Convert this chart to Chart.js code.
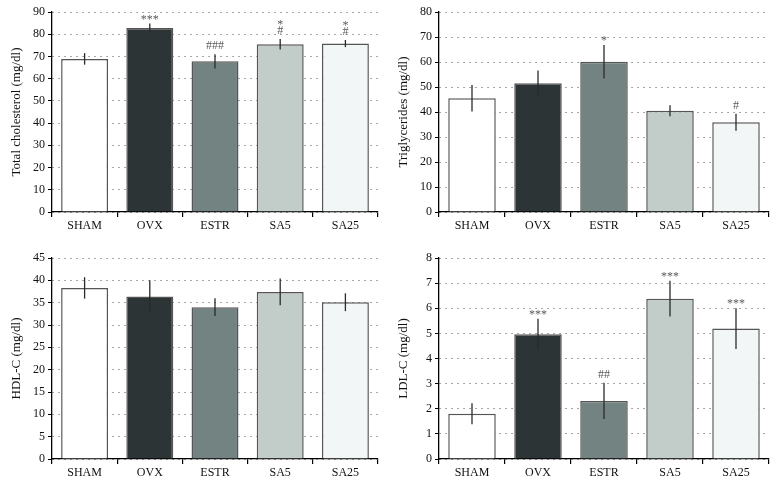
<!DOCTYPE html>
<html>
<head>
<meta charset="utf-8">
<script src="https://cdn.jsdelivr.net/npm/chart.js@4"></script>
<style>
  body { margin: 0; background: #fff; }
  .wrap { position: relative; width: 774px; height: 486px; }
  canvas { position: absolute; }
</style>
</head>
<body>
<div class="wrap">
  <canvas id="tc" width="387" height="243" style="left:0;top:0"></canvas>
  <canvas id="tg" width="387" height="243" style="left:387px;top:0"></canvas>
  <canvas id="hdl" width="387" height="243" style="left:0;top:243px"></canvas>
  <canvas id="ldl" width="387" height="243" style="left:387px;top:243px"></canvas>
</div>
<script>
const groups = ['SHAM', 'OVX', 'ESTR', 'SA5', 'SA25'];
const barColors = ['#ffffff', '#2d3435', '#738381', '#c2ccc8', '#f3f6f7'];

// total cholesterol
const tcMean = [68.9, 82.8, 67.8, 75.5, 75.8];
const tcErr = [2.6, 2.0, 3.2, 2.4, 1.6];
const tcSig = [[], ['***'], ['###'], ['*', '#'], ['*', '#']];

// triglycerides
const tgMean = [45.5, 51.5, 60.1, 40.5, 35.9];
const tgErr = [5.3, 5.1, 6.7, 2.2, 3.4];
const tgSig = [[], [], ['*'], [], ['#']];

// HDL-C
const hdlMean = [38.3, 36.4, 34.0, 37.4, 35.1];
const hdlErr = [2.4, 3.6, 2.0, 3.0, 2.0];
const hdlSig = [[], [], [], [], []];

// LDL-C
const ldlMean = [1.8, 4.97, 2.31, 6.38, 5.19];
const ldlErr = [0.42, 0.61, 0.72, 0.71, 0.81];
const ldlSig = [[], ['***'], ['##'], ['***'], ['***']];

const serif = '"Liberation Serif", "DejaVu Serif", serif';

const errorBars = {
  id: 'errorBars',
  afterDatasetsDraw(chart, args, opts) {
    const ctx = chart.ctx;
    const y = chart.scales.y;
    const means = chart.data.datasets[0].data;
    const meta = chart.getDatasetMeta(0);
    ctx.save();
    meta.data.forEach((bar, i) => {
      const top = y.getPixelForValue(means[i] + opts.err[i]);
      const bot = y.getPixelForValue(means[i] - opts.err[i]);
      ctx.strokeStyle = '#2a2a2a';
      ctx.lineWidth = 1.3;
      ctx.beginPath();
      ctx.moveTo(bar.x, top);
      ctx.lineTo(bar.x, bot);
      ctx.stroke();

      // significance marks, stacked upward
      const lines = opts.sig[i];
      ctx.fillStyle = '#5a5a5a';
      ctx.font = '12px ' + serif;
      ctx.textAlign = 'center';
      ctx.textBaseline = 'alphabetic';
      let base = top;
      for (let k = lines.length - 1; k >= 0; k--) {
        const s = lines[k];
        if (k === lines.length - 1) {
          base = top - (s.includes('#') ? 5 : 1);
        } else {
          base -= 6;
        }
        ctx.fillText(s, bar.x, base);
      }
    });
    ctx.restore();
  }
};

function makeChart(id, label, means, errs, sig, max, step, padTop, xHeight, padRight) {
  new Chart(document.getElementById(id), {
    type: 'bar',
    data: {
      labels: groups,
      datasets: [{
        data: means,
        backgroundColor: barColors,
        borderColor: '#555',
        borderWidth: 1.5,
        borderSkipped: 'bottom',
        categoryPercentage: 1,
        barPercentage: 0.72
      }]
    },
    options: {
      responsive: false,
      animation: false,
      layout: { padding: { top: padTop, right: padRight, left: 0, bottom: 0 } },
      plugins: {
        legend: { display: false },
        tooltip: { enabled: false },
        errorBars: { err: errs, sig: sig }
      },
      scales: {
        x: {
          grid: { offset: true, drawOnChartArea: false, tickColor: '#000', tickLength: 5, lineWidth: 1.2 },
          border: { color: '#000', width: 1.3 },
          ticks: { color: '#111', font: { family: serif, size: 12 }, padding: 2 },
          afterFit(axis) { axis.height = xHeight; }
        },
        y: {
          min: 0,
          max: max,
          ticks: { stepSize: step, color: '#111', font: { family: serif, size: 12 }, padding: 3 },
          grid: { color: '#8a8a8a', tickColor: '#000', tickLength: 4, lineWidth: 1 },
          border: { color: '#000', width: 1.3, dash: [1.5, 4.5] },
          title: { display: true, text: label, color: '#111', font: { family: serif, size: 13 }, padding: { top: 9, bottom: 0 } },
          afterFit(axis) { axis.width = 52; }
        }
      }
    },
    plugins: [errorBars]
  });
}

makeChart('tc', 'Total cholesterol (mg/dl)', tcMean, tcErr, tcSig, 90, 10, 12, 31, 9);
makeChart('tg', 'Triglycerides (mg/dl)', tgMean, tgErr, tgSig, 80, 10, 12, 31, 5);
makeChart('hdl', 'HDL-C (mg/dl)', hdlMean, hdlErr, hdlSig, 45, 5, 15, 27, 9);
makeChart('ldl', 'LDL-C (mg/dl)', ldlMean, ldlErr, ldlSig, 8, 1, 15, 27, 5);
</script>
</body>
</html>
